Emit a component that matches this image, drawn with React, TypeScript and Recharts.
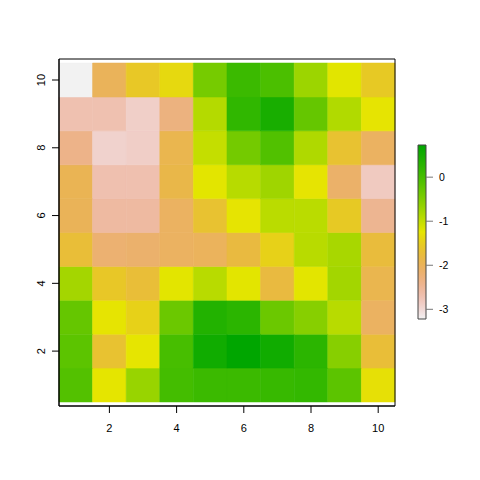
import React from "react";
import { ComposedChart, XAxis, YAxis, ReferenceArea } from "recharts";

// Grid categories
const xCategories = [1, 2, 3, 4, 5, 6, 7, 8, 9, 10];
const yCategories = [1, 2, 3, 4, 5, 6, 7, 8, 9, 10];

// z values, one row per y (bottom to top), columns x = 1..10
const zRow01 = [-0.12, -1.24, -0.69, 0.02, 0.1, 0.1, 0.14, 0.18, -0.2, -1.3];
const zRow02 = [-0.2, -1.66, -1.25, -0.01, 0.55, 0.73, 0.55, 0.26, -0.56, -1.72];
const zRow03 = [-0.28, -1.26, -1.45, -0.33, 0.35, 0.26, -0.33, -0.56, -0.93, -2.06];
const zRow04 = [-0.78, -1.58, -1.72, -1.23, -0.93, -1.23, -1.79, -1.23, -0.77, -1.91];
const zRow05 = [-1.72, -2.19, -2.15, -2.06, -2.02, -1.79, -1.45, -0.93, -0.81, -1.75];
const zRow06 = [-1.99, -2.58, -2.58, -2.06, -1.66, -1.26, -0.94, -0.94, -1.55, -2.45];
const zRow07 = [-1.95, -2.69, -2.69, -1.86, -1.23, -0.92, -0.74, -1.26, -2.13, -2.83];
const zRow08 = [-2.39, -2.93, -2.88, -1.91, -1.01, -0.4, -0.1, -0.86, -1.66, -2.06];
const zRow09 = [-2.7, -2.7, -2.89, -2.31, -0.9, 0.21, 0.46, -0.28, -0.88, -1.26];
const zRow10 = [-3.22, -2.0, -1.57, -1.37, -0.42, 0.1, -0.05, -0.72, -1.22, -1.55];
const zRows = [zRow01, zRow02, zRow03, zRow04, zRow05, zRow06, zRow07, zRow08, zRow09, zRow10];

// Tick labels
const xTicks = [2, 4, 6, 8, 10];
const yTicks = [2, 4, 6, 8, 10];
const legendTicks = [-3, -2, -1, 0];

const allZ = zRows.flat();
const zMin = Math.min(...allZ);
const zMax = Math.max(...allZ);

const FONT = "'Liberation Sans', Arial, Helvetica, sans-serif";

function hsvToHex(h: number, s: number, v: number): string {
  const c = v * s;
  const hp = h / 60;
  const x = c * (1 - Math.abs((hp % 2) - 1));
  let r = 0, g = 0, b = 0;
  if (hp < 1) { r = c; g = x; }
  else if (hp < 2) { r = x; g = c; }
  else if (hp < 3) { g = c; b = x; }
  else if (hp < 4) { g = x; b = c; }
  else if (hp < 5) { r = x; b = c; }
  else { r = c; b = x; }
  const m = v - c;
  const toHex = (n: number) => Math.round((n + m) * 255).toString(16).padStart(2, "0");
  return "#" + toHex(r) + toHex(g) + toHex(b);
}

// R terrain.colors, reversed (high = green, low = near white)
function terrainColor(value: number): string {
  const u = Math.max(0, Math.min(1, (zMax - value) / (zMax - zMin)));
  if (u <= 0.5) {
    const f = u / 0.5;
    return hsvToHex(120 - 60 * f, 1, 0.65 + 0.25 * f);
  }
  const w = (u - 0.5) / 0.5;
  return hsvToHex(60 - 60 * w, 1 - w, 0.9 + 0.05 * w);
}

const cells = yCategories.flatMap((y, yi) =>
  xCategories.map((x, xi) => ({ x, y, z: zRows[yi][xi] }))
);

const gradientStops = Array.from({ length: 41 }, (_, i) => i / 40);

const XTick = (props: any) => {
  const { x, y, payload } = props;
  return (
    <text x={x} y={y} textAnchor="middle" dominantBaseline="central" fontSize={11} fontFamily={FONT} fill="#000">
      {payload.value}
    </text>
  );
};

const YTick = (props: any) => {
  const { x, y, payload } = props;
  return (
    <text x={x} y={y} transform={`rotate(-90 ${x} ${y})`} textAnchor="middle" dominantBaseline="central" fontSize={11} fontFamily={FONT} fill="#000">
      {payload.value}
    </text>
  );
};

const LegendTick = (props: any) => {
  const { x, y, payload } = props;
  return (
    <text x={x} y={y} textAnchor="start" dominantBaseline="central" fontSize={10.5} fontFamily={FONT} fill="#000">
      {String(payload.value)}
    </text>
  );
};

export default function App() {
  return (
    <div style={{ position: "absolute", left: 0, top: 0, width: 480, height: 480, background: "#fff" }}>
      <div style={{ position: "absolute", left: 0, top: 0 }}>
        <ComposedChart width={480} height={480} margin={{ top: 59, right: 85, bottom: 44, left: 19 }}>
          <XAxis
            type="number"
            dataKey="x"
            domain={[0.5, 10.5]}
            ticks={xTicks}
            interval={0}
            allowDataOverflow
            height={30}
            tickSize={7}
            tickMargin={15}
            tickLine={{ stroke: "#000" }}
            axisLine={{ stroke: "#000" }}
            tick={XTick}
          />
          <YAxis
            type="number"
            dataKey="y"
            domain={[0.38, 10.62]}
            ticks={yTicks}
            interval={0}
            allowDataOverflow
            width={40}
            tickSize={7}
            tickMargin={11}
            tickLine={{ stroke: "#000" }}
            axisLine={{ stroke: "#000" }}
            tick={YTick}
          />
          {cells.map((c) => (
            <ReferenceArea
              key={`c-${c.x}-${c.y}`}
              x1={c.x - 0.5}
              x2={c.x + 0.5}
              y1={c.y - 0.5}
              y2={c.y + 0.5}
              fill={terrainColor(c.z)}
              fillOpacity={1}
              stroke={terrainColor(c.z)}
              strokeWidth={0.6}
              isAnimationActive={false}
            />
          ))}
          <ReferenceArea x1={0.5} x2={10.5} y1={0.38} y2={10.62} fill="none" fillOpacity={0} stroke="#000" strokeWidth={1} />
        </ComposedChart>
      </div>
      <svg width={0} height={0} style={{ position: "absolute" }}>
        <defs>
          <linearGradient id="legendGrad" x1="0" y1="0" x2="0" y2="1">
            {gradientStops.map((t) => (
              <stop key={t} offset={`${t * 100}%`} stopColor={terrainColor(zMax - t * (zMax - zMin))} />
            ))}
          </linearGradient>
        </defs>
      </svg>
      <div style={{ position: "absolute", left: 0, top: 0 }}>
        <ComposedChart width={480} height={480} margin={{ top: 145, right: 0, bottom: 161, left: 418 }}>
          <XAxis
            type="number"
            dataKey="x"
            domain={[0.5, 1.5]}
            allowDataOverflow
            height={0}
            tick={false}
            tickLine={false}
            axisLine={false}
          />
          <YAxis
            type="number"
            dataKey="z"
            orientation="right"
            domain={[zMin, zMax]}
            ticks={legendTicks}
            interval={0}
            allowDataOverflow
            width={54}
            tickSize={7}
            tickMargin={6}
            tickLine={{ stroke: "#777" }}
            axisLine={false}
            tick={LegendTick}
          />
          <ReferenceArea x1={0.5} x2={1.5} y1={zMin} y2={zMax} fill="url(#legendGrad)" fillOpacity={1} stroke="#444" strokeWidth={1} />
        </ComposedChart>
      </div>
    </div>
  );
}
